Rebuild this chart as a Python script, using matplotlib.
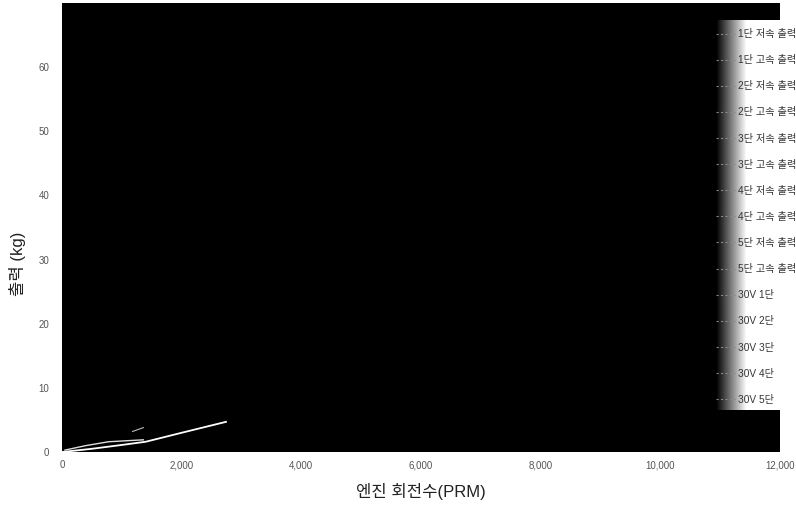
import matplotlib
matplotlib.use('Agg')
import matplotlib.pyplot as plt
from matplotlib.lines import Line2D
import numpy as np

plt.rcParams['font.family'] = ['Liberation Sans', 'Noto Sans CJK KR', 'DejaVu Sans']

# visible traces (engine rpm vs output kg)
rpm_a = [0, 500, 1000, 1400, 2000, 2740]
out_a = [0.0, 0.5, 1.1, 1.6, 3.0, 4.7]
rpm_b = [50, 400, 780, 1360]
out_b = [0.3, 1.0, 1.6, 1.9]
rpm_c = [1180, 1360]
out_c = [3.2, 3.8]

legend_labels = ['1단 저속 출력', '1단 고속 출력', '2단 저속 출력', '2단 고속 출력',
                 '3단 저속 출력', '3단 고속 출력', '4단 저속 출력', '4단 고속 출력',
                 '5단 저속 출력', '5단 고속 출력',
                 '30V 1단', '30V 2단', '30V 3단', '30V 4단', '30V 5단']

xticks = [0, 2000, 4000, 6000, 8000, 10000, 12000]
yticks = [0, 10, 20, 30, 40, 50, 60]

fig = plt.figure(figsize=(7.96, 5.08), dpi=100)
ax = fig.add_axes([62/796, 56/508, 718/796, 449/508])
ax.set_facecolor('black')

ax.plot(rpm_a, out_a, color='white', lw=1.3)
ax.plot(rpm_b, out_b, color='#dddddd', lw=1.0)
ax.plot(rpm_c, out_c, color='#bbbbbb', lw=0.8)

ax.set_xlim(0, 12000)
ax.set_ylim(0, 70)
ax.set_xticks(xticks)
ax.set_xticklabels(['{:,}'.format(v) for v in xticks])
ax.set_yticks(yticks)
ax.tick_params(length=0, labelsize=7, colors='#555555')
ax.tick_params(axis='x', pad=6)
ax.tick_params(axis='y', pad=9)
for s in ax.spines.values():
    s.set_visible(False)

ax.set_xlabel('엔진 회전수(PRM)', fontsize=12, color='#222222', labelpad=9)
ax.set_ylabel('출력 (kg)', fontsize=12, color='#222222')
ax.yaxis.set_label_coords(-0.05, 0.42)

# faded white panel behind the legend
gax = fig.add_axes([712/796, (508-410)/508, 84/796, 390/508], zorder=1)
grad = np.clip((np.arange(84) - 4) / 30.0, 0, 1)
gax.imshow(np.tile(grad, (10, 1)), cmap='gray', vmin=0, vmax=1, aspect='auto')
gax.axis('off')

handles = [Line2D([0], [0], color='#888888', lw=0.8, ls=(0, (2, 2))) for _ in legend_labels]
fig.legend(handles, legend_labels, loc='upper left', bbox_to_anchor=(711/796, 1 - 24/508),
           frameon=False, fontsize=7.3, handlelength=1.9, handletextpad=0.3,
           labelspacing=1.59, borderpad=0, labelcolor='#333333')

fig.savefig('out.png', dpi=100)
